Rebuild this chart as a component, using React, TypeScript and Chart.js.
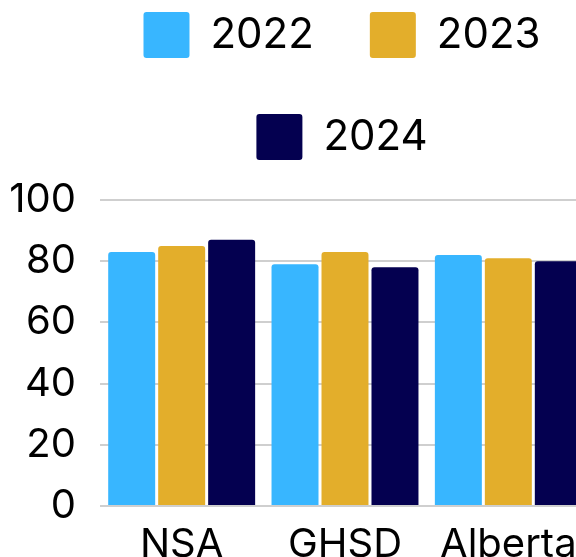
import React, { useEffect, useRef } from 'react';
import { Chart, registerables } from 'chart.js';

Chart.register(...registerables);

const categories = ['NSA', 'GHSD', 'Alberta'];
const seriesLabels = ['2022', '2023', '2024'];
const values2022 = [83, 79, 82];
const values2023 = [85, 83, 81];
const values2024 = [87, 78, 80];
const seriesColors = ['#38B6FF', '#E3AE2B', '#040050'];
const yTicks = [0, 20, 40, 60, 80, 100];

const FONT = 'Inter';

const legendSpacer = {
  id: 'legendSpacer',
  beforeLayout(chart: any) {
    const lg = chart.legend;
    if (lg && !lg._spacerPatched) {
      const orig = lg.fit;
      lg.fit = function (this: any) {
        orig.call(this);
        this.height += 30;
      };
      lg._spacerPatched = true;
    }
  },
};

export default function App() {
  const ref = useRef<HTMLCanvasElement | null>(null);

  useEffect(() => {
    if (!ref.current) return;
    const seriesValues = [values2022, values2023, values2024];
    const chart = new Chart(ref.current, {
      type: 'bar',
      data: {
        labels: categories,
        datasets: seriesLabels.map((label, i) => ({
          label,
          data: seriesValues[i],
          backgroundColor: seriesColors[i],
          borderWidth: 0,
          borderRadius: 3,
          categoryPercentage: 0.918,
          barPercentage: 0.94,
          yAxisID: 'y',
        })),
      },
      options: {
        responsive: false,
        animation: false,
        layout: { padding: 0 },
        plugins: {
          legend: {
            position: 'top',
            align: 'center',
            labels: {
              color: '#000',
              font: { family: FONT, size: 42 },
              boxWidth: 46,
              boxHeight: 46,
              padding: 56,
              useBorderRadius: true,
              borderRadius: 3,
            },
          },
          tooltip: { enabled: false },
        },
        scales: {
          x: {
            grid: { display: false },
            border: { display: false },
            ticks: { color: '#000', font: { family: FONT, size: 40 }, padding: 7 },
            afterFit: (s: any) => {
              s.height = 51;
            },
          },
          y: {
            min: 0,
            max: 100,
            grid: { color: '#cfcfcf', lineWidth: 2, drawTicks: false },
            border: { display: false },
            ticks: { color: '#000', font: { family: FONT, size: 40 }, padding: 24 },
            afterBuildTicks: (s: any) => {
              s.ticks = yTicks.map((v) => ({ value: v }));
            },
            afterFit: (s: any) => {
              s.width = 100;
            },
          },
          y2: {
            type: 'linear',
            position: 'right',
            display: true,
            grid: { display: false },
            border: { display: false },
            ticks: { display: false },
            afterFit: (s: any) => {
              s.width = 94;
            },
          },
        },
      },
      plugins: [legendSpacer],
    } as any);
    return () => chart.destroy();
  }, []);

  return (
    <div
      style={{
        position: 'fixed',
        left: 0,
        top: 0,
        width: 576,
        height: 557,
        overflow: 'hidden',
        background: '#fff',
      }}
    >
      <canvas
        ref={ref}
        width={684}
        height={601}
        style={{ position: 'absolute', left: 0, top: -44, width: 684, height: 601 }}
      />
    </div>
  );
}
